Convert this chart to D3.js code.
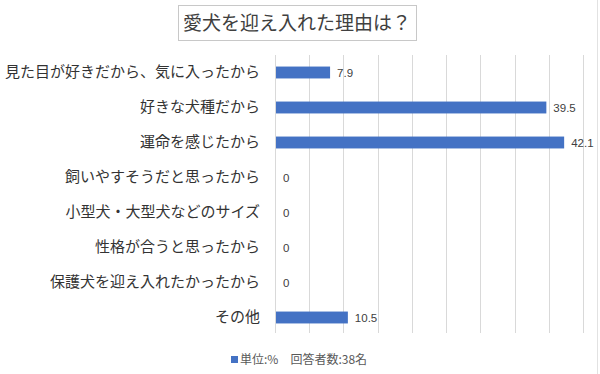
<!DOCTYPE html>
<html>
<head>
<meta charset="utf-8">
<script src="https://cdn.jsdelivr.net/npm/d3@7"></script>
<style>
  body { margin: 0; background: #fff; }
  svg { display: block; }
</style>
</head>
<body>
<svg></svg>
<script>
let categories = [
    '見た目が好きだから、気に入ったから',
    '好きな犬種だから',
    '運命を感じたから',
    '飼いやすそうだと思ったから',
    '小型犬・大型犬などのサイズ',
    '性格が合うと思ったから',
    '保護犬を迎え入れたかったから',
    'その他'
];
let values = [7.9, 39.5, 42.1, 0, 0, 0, 0, 10.5];
let valueLabels = ['7.9', '39.5', '42.1', '0', '0', '0', '0', '10.5'];
let gridTicks = [0, 5, 10, 15, 20, 25, 30, 35, 40, 45];
let titleText = '愛犬を迎え入れた理由は？';
let legendText = '単位:%　回答者数:38名';

let w = 600;
let h = 374;
let plotLeft = 275;
let plotRight = 583;
let plotTop = 55;
let plotBottom = 335;
let jp = '"Noto Sans CJK JP", "Noto Sans", sans-serif';

let svg = d3.select('svg')
    .attr('width', w)
    .attr('height', h)

// faint edge on the right
svg.append('line')
    .attr('x1', 597.5).attr('x2', 597.5)
    .attr('y1', 0).attr('y2', h)
    .attr('stroke', '#e2e2e2')

let xScale = d3.scaleLinear()
    .domain([0, 45])
    .range([plotLeft, plotRight])

let yScale = d3.scaleBand()
    .domain(categories)
    .range([plotTop, plotBottom])
    .paddingInner(0.66)
    .paddingOuter(0.33)

// gridlines
svg.append('g')
    .selectAll('line')
    .data(gridTicks)
    .enter()
    .append('line')
    .attr('x1', d => Math.round(xScale(d)) + 0.5)
    .attr('x2', d => Math.round(xScale(d)) + 0.5)
    .attr('y1', plotTop)
    .attr('y2', plotBottom - 2)
    .attr('stroke', '#d9d9d9')
    .attr('stroke-width', 1)

// bars
svg.selectAll('rect.bar')
    .data(values)
    .enter()
    .append('rect')
    .attr('class', 'bar')
    .attr('x', xScale(0) + 1)
    .attr('y', (d, i) => yScale(categories[i]))
    .attr('width', d => Math.max(0, xScale(d) - xScale(0)))
    .attr('height', yScale.bandwidth())
    .attr('fill', '#4472c4')

// value labels
svg.selectAll('text.val')
    .data(values)
    .enter()
    .append('text')
    .attr('class', 'val')
    .attr('x', d => xScale(d) + 8)
    .attr('y', (d, i) => yScale(categories[i]) + yScale.bandwidth() / 2)
    .attr('dy', '0.35em')
    .attr('font-family', '"Liberation Sans", Arial, sans-serif')
    .attr('font-size', 11.5)
    .attr('fill', '#404040')
    .text((d, i) => valueLabels[i])

// category axis
let yAxis = d3.axisLeft(yScale).tickSize(0).tickPadding(15)
let gy = svg.append('g')
    .attr('transform', 'translate(' + plotLeft + ',0)')
    .call(yAxis)
gy.select('.domain').remove()
gy.selectAll('text')
    .attr('font-family', jp)
    .attr('font-size', 15)
    .attr('fill', '#333')

// title box
let titleG = svg.append('g')
titleG.append('rect')
    .attr('x', 178.5).attr('y', 5.5)
    .attr('width', 238).attr('height', 35)
    .attr('fill', '#fff')
    .attr('stroke', '#c8c8c8')
titleG.append('text')
    .attr('x', 297)
    .attr('y', 23)
    .attr('dy', '0.35em')
    .attr('text-anchor', 'middle')
    .attr('font-family', jp)
    .attr('font-size', 19)
    .attr('fill', '#404040')
    .text(titleText)

// legend
svg.append('rect')
    .attr('x', 231).attr('y', 356)
    .attr('width', 7).attr('height', 7)
    .attr('fill', '#4472c4')
svg.append('text')
    .attr('x', 240)
    .attr('y', 360)
    .attr('dy', '0.35em')
    .attr('font-family', jp)
    .attr('font-size', 12)
    .attr('fill', '#595959')
    .text(legendText)
</script>
</body>
</html>
